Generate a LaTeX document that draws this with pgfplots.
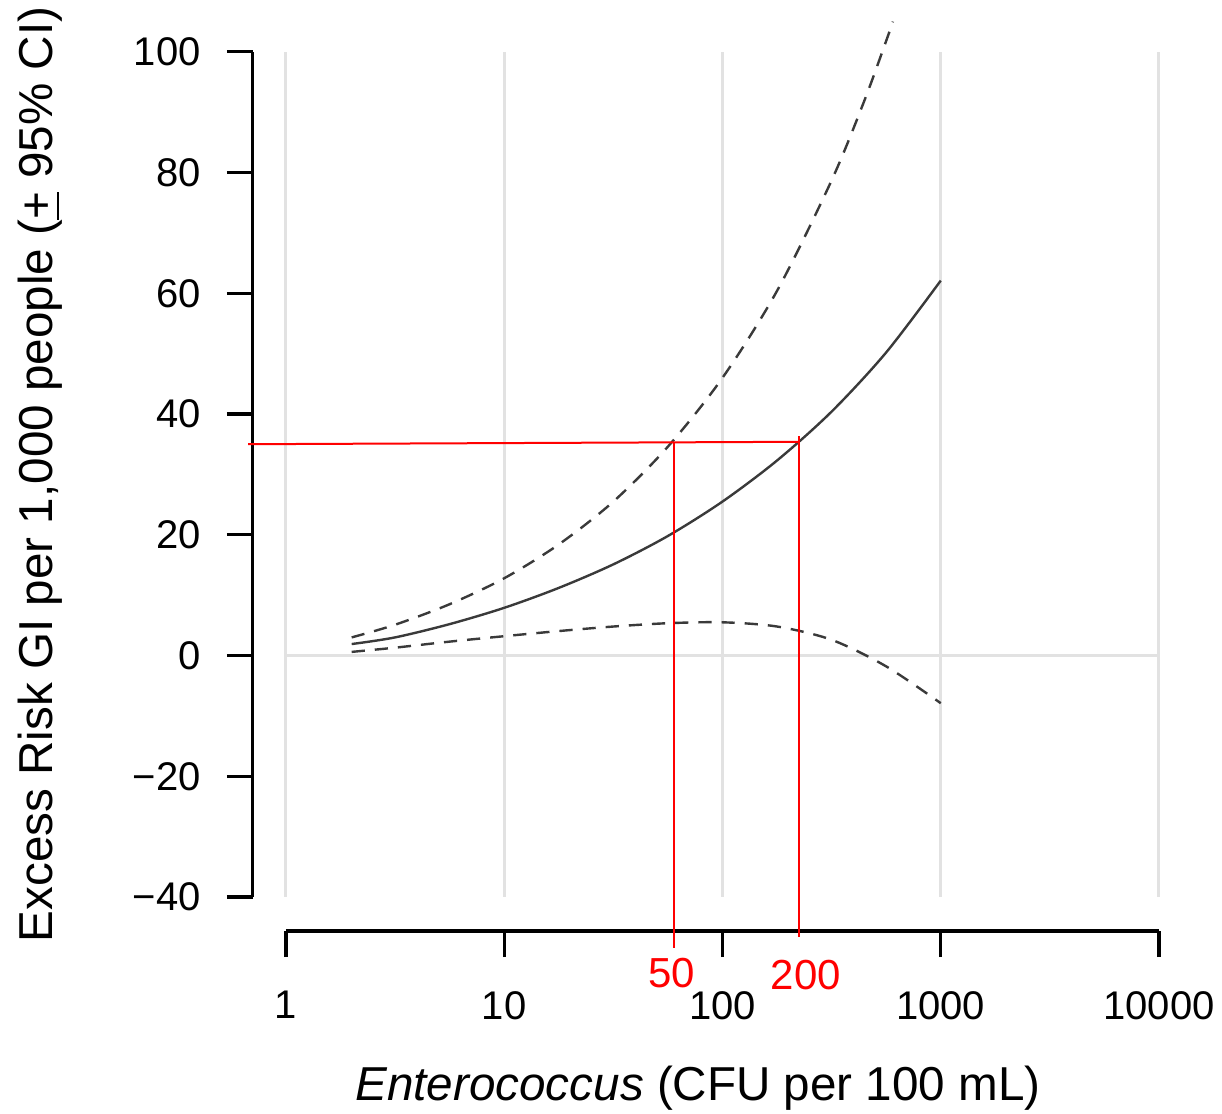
\documentclass[border=0pt]{standalone}
\usepackage{fontspec}
\setmainfont{Liberation Sans}
\usepackage{pgfplots}
\pgfplotsset{compat=1.18}

\definecolor{gridgrey}{HTML}{E2E2E2}
\definecolor{curve}{HTML}{3A3A3A}

\begin{document}
\begin{tikzpicture}
\begin{axis}[
    xmode=log, log basis x=10,
    scale only axis,
    width=218.25pt, height=211.3pt,
    xmin=1, xmax=10000, ymin=-40, ymax=100,
    axis lines=left,
    axis line style={-, line width=0.8pt},
    axis x line shift=8.5pt,
    axis y line shift=8.3pt,
    tick align=outside,
    major tick length=6.5pt,
    tick style={line width=0.8pt, black},
    xminorticks=false,
    xtick={1,10,100,1000,10000},
    xticklabels={1,10,100,1000,10000},
    ytick={-40,-20,0,20,40,60,80,100},
    yticklabels={−40,−20,0,20,40,60,80,100},
    ticklabel style={font=\fontsize{10}{12}\selectfont},
    xticklabel style={yshift=-5pt},
    yticklabel style={xshift=-3pt},
    xmajorgrids,
    grid style={gridgrey, line width=0.75pt},
    clip=false,
    every axis y label/.style={at={(rel axis cs:0,0.5)}, xshift=-61.5pt,
        rotate=90, anchor=center, font=\fontsize{11.9}{13}\selectfont},
    every axis x label/.style={at={(rel axis cs:0.472,0)}, yshift=-47.75pt,
        anchor=center, font=\fontsize{11.9}{13}\selectfont},
    ylabel={Excess Risk GI per 1,000 people (\underline{+} 95\% CI)},
    xlabel={\textit{Enterococcus} (CFU per 100 mL)},
]
\coordinate (o) at (axis cs:1,-40);

% zero line
\addplot[gridgrey, line width=0.75pt] coordinates {(1,0) (10000,0)};

% upper CI
\addplot[curve, line width=0.6pt, dash pattern=on 3.3pt off 2.5pt, smooth] coordinates {
(2,3.0) (3.162,5.1) (5.623,8.5) (10,12.8) (17.78,18.4) (31.62,25.5)
(56.23,34.6) (100,46.0) (177.8,60.4) (316.2,78.7) (446.7,91.9)
(562.3,101.8) (603.9,105.0)};

% estimate
\addplot[curve, line width=0.6pt, smooth] coordinates {
(2,1.9) (3.162,3.0) (5.623,5.2) (10,7.9) (17.78,11.2) (31.62,15.1)
(56.23,19.8) (100,25.5) (177.8,32.3) (316.2,40.4) (562.3,50.2) (1000,62.1)};

% lower CI
\addplot[curve, line width=0.6pt, dash pattern=on 3.3pt off 2.5pt, smooth] coordinates {
(2,0.6) (3.162,1.3) (5.623,2.3) (10,3.2) (17.78,4.05) (31.62,4.8)
(56.23,5.35) (100,5.5) (177.8,4.8) (316.2,2.6) (562.3,-1.8) (1000,-7.9)};

% red annotation
\addplot[red, line width=0.5pt] coordinates {(0.67,35.0) (226,35.4)};
\addplot[red, line width=0.5pt] coordinates {(60,35.4) (60,-48.4)};
\addplot[red, line width=0.5pt] coordinates {(224,36.35) (224,-46.6)};
\node[red, font=\fontsize{10.5}{12}\selectfont] at (axis cs:58.7,-52.6) {50};
\node[red, font=\fontsize{10.5}{12}\selectfont] at (axis cs:241.3,-52.9) {200};
\end{axis}
\pgfresetboundingbox
\path ([shift={(-71.5pt,-54.25pt)}]o) rectangle ([shift={(234pt,224.25pt)}]o);
\end{tikzpicture}
\end{document}
